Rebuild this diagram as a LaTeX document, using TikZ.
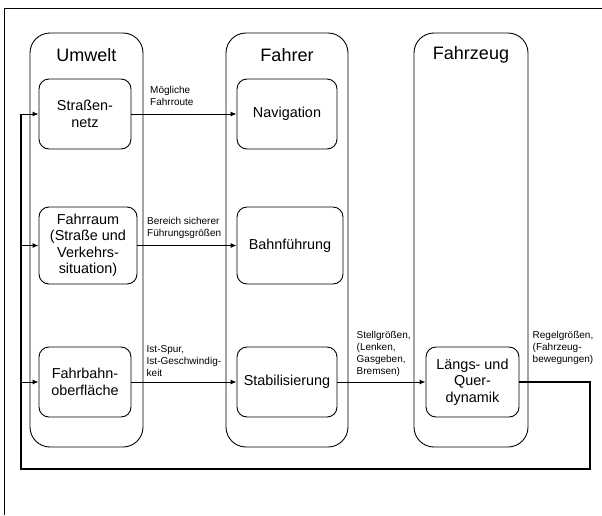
\documentclass[tikz,border=0pt]{standalone}
\usepackage{fontspec}
\setmainfont{Liberation Sans}
\usetikzlibrary{arrows.meta}
\begin{document}
\begin{tikzpicture}[x=1pt,y=-1pt,
  container/.style={draw, line width=0.9pt, rounded corners=20pt, inner sep=0pt},
  title/.style={font=\fontsize{18}{20}\selectfont, inner sep=0pt},
  innerbox/.style={draw, line width=0.9pt, rounded corners=10pt, inner sep=0pt, align=center,
    font=\fontsize{14.4}{16.5}\selectfont},
  lab/.style={font=\fontsize{10}{12}\selectfont, align=left, anchor=west, inner sep=0pt},
  arr/.style={line width=1pt, -{Latex[length=6pt,width=5pt]}},
  fb/.style={line width=1.6pt},
  frame/.style={line width=1.2pt}
]
\useasboundingbox (0,0) rectangle (602,515);
% outer frame
\coordinate (fr1) at (4.5,515);
\coordinate (fr2) at (4.5,8.3);
\coordinate (fr3) at (602,8.3);
\draw[frame] (fr1) -- (fr2) -- (fr3);

% containers
\node[container, minimum width=113pt, minimum height=414pt] (umwelt) at (86.5,240) {};
\node[container, minimum width=122pt, minimum height=414pt] (fahrer) at (287,240) {};
\node[container, minimum width=114pt, minimum height=414pt] (fahrzeug) at (471,240) {};
\node[title] (tu) at (86.5,55) {Umwelt};
\node[title] (tf) at (287,55) {Fahrer};
\node[title] (tz) at (471,55) {Fahrzeug};

% inner boxes
\node[innerbox, minimum width=92pt, minimum height=70pt] (strasse) at (85,114) {Straßen-\\netz};
\node[innerbox, minimum width=98pt, minimum height=77pt] (fahrraum) at (88,245.5) {Fahrraum\\(Straße und\\Verkehrs-\\situation)};
\node[innerbox, minimum width=92pt, minimum height=70pt] (fahrbahn) at (85,382) {Fahrbahn-\\oberfläche};
\node[innerbox, minimum width=100pt, minimum height=70pt] (navi) at (287,114) {Navigation};
\node[innerbox, minimum width=106pt, minimum height=77pt] (bahn) at (290,245.5) {Bahnführung};
\node[innerbox, minimum width=100pt, minimum height=70pt] (stab) at (287,382) {Stabilisierung};
\node[innerbox, minimum width=93pt, minimum height=70pt] (laengs) at (472.5,382) {Längs- und\\Quer-\\dynamik};

% forward arrows
\draw[arr] (strasse.east) -- (navi.west);
\draw[arr] (fahrraum.east) -- (fahrraum.east -| bahn.west);
\draw[arr] (fahrbahn.east) -- (stab.west);
\draw[arr] (stab.east) -- (laengs.west);

% labels
\node[lab] (l1) at (150,96) {Mögliche\\Fahrroute};
\node[lab] (l2) at (147,228) {Bereich sicherer\\Führungsgrößen};
\node[lab] (l3) at (146.5,361) {Ist-Spur,\\Ist-Geschwindig-\\keit};
\node[lab] (l4) at (356.5,354) {Stellgrößen,\\(Lenken,\\Gasgeben,\\Bremsen)};
\node[lab] (l5) at (532.5,348) {Regelgrößen,\\(Fahrzeug-\\bewegungen)};

% feedback loop
\coordinate (c1) at (590,469);
\coordinate (c2) at (21,469);
\coordinate (c3) at (21,114);
\draw[fb] (laengs.east) -| (c1) -- (c2) -- (c3);
\draw[arr] (c3) -- (strasse.west);
\draw[arr] (c2 |- fahrraum.west) -- (fahrraum.west);
\draw[arr] (c2 |- fahrbahn.west) -- (fahrbahn.west);
\end{tikzpicture}
\end{document}
